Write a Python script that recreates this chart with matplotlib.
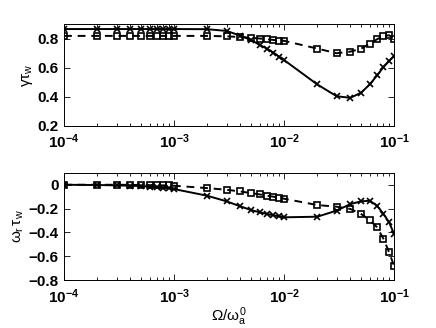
import matplotlib
matplotlib.use("Agg")
import matplotlib.pyplot as plt
from matplotlib.ticker import LogLocator, NullFormatter

x = [1e-4, 2e-4, 3e-4, 4e-4, 5e-4, 6e-4, 7e-4, 8e-4, 9e-4, 1e-3,
     2e-3, 3e-3, 4e-3, 5e-3, 6e-3, 7e-3, 8e-3, 9e-3, 1e-2,
     2e-2, 3e-2, 4e-2, 5e-2, 6e-2, 7e-2, 8e-2, 9e-2, 1e-1]

gamma_cross = [0.865, 0.865, 0.865, 0.865, 0.865, 0.865, 0.865, 0.865, 0.865, 0.865,
               0.864, 0.852, 0.82, 0.79, 0.756, 0.73, 0.703, 0.675, 0.652,
               0.485, 0.404, 0.393, 0.428, 0.485, 0.547, 0.604, 0.646, 0.68]
gamma_square = [0.818, 0.818, 0.818, 0.818, 0.818, 0.818, 0.818, 0.818, 0.818, 0.818,
                0.818, 0.815, 0.81, 0.805, 0.80, 0.795, 0.79, 0.786, 0.784,
                0.731, 0.699, 0.71, 0.73, 0.765, 0.795, 0.818, 0.822, 0.80]

omega_cross = [0.0, -0.002, -0.005, -0.008, -0.011, -0.015, -0.019, -0.024, -0.03, -0.036,
               -0.092, -0.139, -0.181, -0.212, -0.231, -0.245, -0.256, -0.265, -0.273,
               -0.268, -0.217, -0.162, -0.139, -0.134, -0.176, -0.245, -0.315, -0.413]
omega_square = [0.0, 0.0, 0.0, -0.001, -0.002, -0.003, -0.004, -0.005, -0.006, -0.008,
                -0.028, -0.042, -0.056, -0.07, -0.081, -0.092, -0.10, -0.109, -0.117,
                -0.17, -0.184, -0.203, -0.245, -0.295, -0.357, -0.454, -0.566, -0.683]

plt.rcParams['font.family'] = ['Liberation Sans', 'DejaVu Sans']
plt.rcParams['mathtext.fontset'] = 'custom'
plt.rcParams['mathtext.rm'] = 'Liberation Sans'
plt.rcParams['mathtext.it'] = 'Liberation Sans'
plt.rcParams['mathtext.bf'] = 'Liberation Sans:bold'

fig = plt.figure(figsize=(4.36, 3.28), dpi=100)
ax1 = fig.add_axes([0.147, 0.616, 0.757, 0.311])
ax2 = fig.add_axes([0.147, 0.146, 0.757, 0.327])

def style(ax):
    ax.set_xscale('log')
    ax.set_xlim(1e-4, 1e-1)
    ax.xaxis.set_major_locator(LogLocator(base=10, numticks=10))
    ax.xaxis.set_minor_locator(LogLocator(base=10, subs=range(2, 10), numticks=10))
    ax.xaxis.set_minor_formatter(NullFormatter())
    ax.tick_params(which='both', direction='in', top=True, right=True, labelsize=11)
    ax.tick_params(axis='x', pad=5)
    ax.tick_params(axis='y', pad=4)
    ax.tick_params(which='major', length=4, width=0.6)
    ax.tick_params(which='minor', length=2, width=0.6)
    ax.set_xticks([1e-4, 1e-3, 1e-2, 1e-1])
    ax.set_xticklabels([r'$\mathbf{10^{-4}}$', r'$\mathbf{10^{-3}}$',
                        r'$\mathbf{10^{-2}}$', r'$\mathbf{10^{-1}}$'])
    for lab in ax.get_xticklabels() + ax.get_yticklabels():
        lab.set_fontweight('bold')
    for s in ax.spines.values():
        s.set_linewidth(0.7)

ax1.plot(x, gamma_cross, '-', color='black', lw=1.4, marker='x', ms=4, mew=1.2)
ax1.plot(x, gamma_square, '--', color='black', lw=1.4, marker='s', ms=5, mew=1.2,
         mfc='none', dashes=(4, 3))
ax1.set_ylim(0.2, 0.9)
ax1.set_yticks([0.2, 0.4, 0.6, 0.8])
ax1.set_yticklabels(['0.2', '0.4', '0.6', '0.8'])
ax1.set_ylabel(r'$\gamma\tau_{w}$', fontsize=11, labelpad=2)
style(ax1)

ax2.plot(x, omega_cross, '-', color='black', lw=1.4, marker='x', ms=4, mew=1.2)
ax2.plot(x, omega_square, '--', color='black', lw=1.4, marker='s', ms=5, mew=1.2,
         mfc='none', dashes=(4, 3))
ax2.set_ylim(-0.8, 0.1)
ax2.set_yticks([-0.8, -0.6, -0.4, -0.2, 0])
ax2.set_yticklabels(['\u22120.8', '\u22120.6', '\u22120.4', '\u22120.2', '0'])
ax2.set_ylabel(r'$\omega_{r}\,\tau_{w}$', fontsize=11, labelpad=2)
ax2.set_xlabel(r'$\Omega/\omega_{a}^{0}$', fontsize=11, labelpad=0)
style(ax2)

fig.savefig('out.png', dpi=100)
